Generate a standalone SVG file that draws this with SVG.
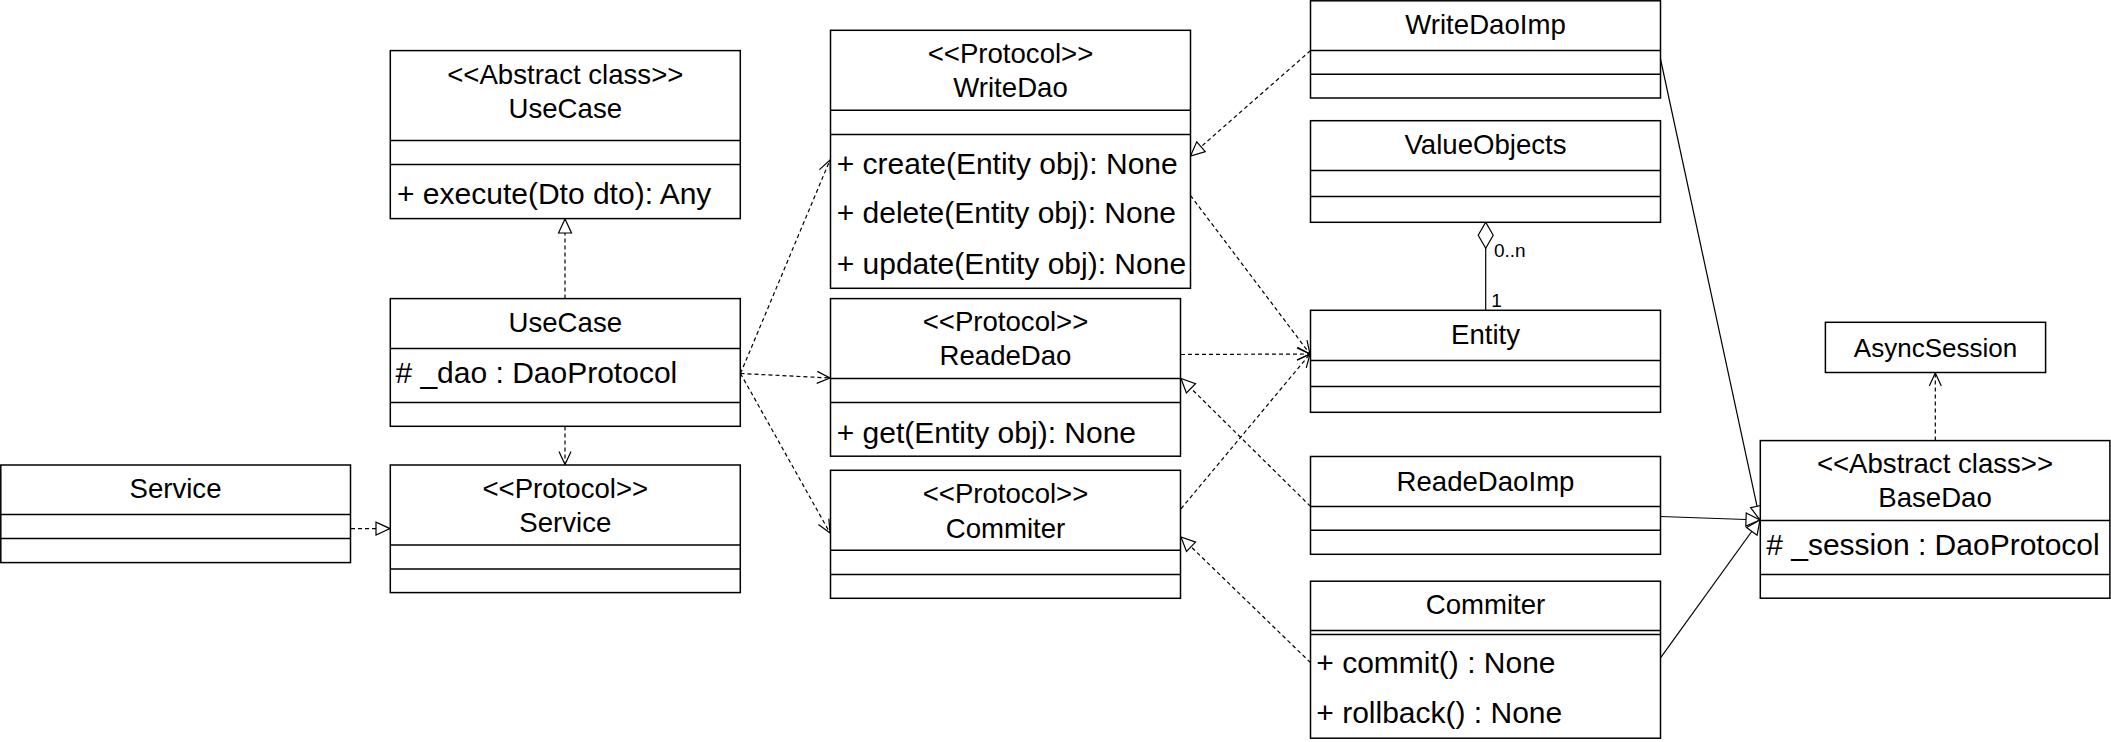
<svg xmlns="http://www.w3.org/2000/svg" width="2111" height="742" viewBox="0 0 2111 742">
<style>
.bg{fill:#fff}
.box{fill:#fff;stroke:#000;stroke-width:1.5}
.div{stroke:#000;stroke-width:1.5}
.t{font-family:"Liberation Sans",Arial,Helvetica,sans-serif;font-size:27.6px;text-anchor:middle;fill:#000}
.m{font-family:"Liberation Sans",Arial,Helvetica,sans-serif;font-size:30px;text-anchor:start;fill:#000}
.lbl{font-family:"Liberation Sans",Arial,Helvetica,sans-serif;font-size:19px;fill:#000}
.dash{fill:none;stroke:#000;stroke-width:1.2;stroke-dasharray:4 3}
.solid{fill:none;stroke:#000;stroke-width:1.2}
</style>
<defs>
<marker id="open" markerUnits="userSpaceOnUse" markerWidth="16" markerHeight="14" refX="13" refY="6" orient="auto" overflow="visible">
<path d="M0,0 L13,6 L0,12" fill="none" stroke="#000" stroke-width="1.2" stroke-dasharray="none"/>
</marker>
<marker id="tri" markerUnits="userSpaceOnUse" markerWidth="16" markerHeight="16" refX="14" refY="6.5" orient="auto" overflow="visible">
<path d="M0,0 L14,6.5 L0,13 Z" fill="#fff" stroke="#000" stroke-width="1.2" stroke-dasharray="none"/>
</marker>
<marker id="dia" markerUnits="userSpaceOnUse" markerWidth="28" markerHeight="16" refX="26" refY="7.5" orient="auto" overflow="visible">
<path d="M0,7.5 L13,0 L26,7.5 L13,15 Z" fill="#fff" stroke="#000" stroke-width="1.2" stroke-dasharray="none"/>
</marker>
</defs>
<rect class="bg" x="0" y="0" width="2111" height="742"/>

<g id="connectors">
<line class="dash" x1="565" y1="298.5" x2="565" y2="219" marker-end="url(#tri)"/>
<line class="dash" x1="351" y1="528.6" x2="390" y2="528.6" marker-end="url(#tri)"/>
<line class="dash" x1="1310.5" y1="50.6" x2="1190.5" y2="156" marker-end="url(#tri)"/>
<line class="dash" x1="1310.5" y1="506.4" x2="1181" y2="378.5" marker-end="url(#tri)"/>
<line class="dash" x1="1310.5" y1="662.6" x2="1181" y2="537" marker-end="url(#tri)"/>
<line class="dash" x1="565" y1="426.5" x2="565" y2="464.5" marker-end="url(#open)"/>
<line class="dash" x1="740.5" y1="373.5" x2="830" y2="160" marker-end="url(#open)"/>
<line class="dash" x1="740.5" y1="373.5" x2="830" y2="378" marker-end="url(#open)"/>
<line class="dash" x1="740.5" y1="373.5" x2="830" y2="533" marker-end="url(#open)"/>
<line class="dash" x1="1190.5" y1="195.5" x2="1310" y2="354" marker-end="url(#open)"/>
<line class="dash" x1="1181" y1="354.5" x2="1310" y2="354" marker-end="url(#open)"/>
<line class="dash" x1="1181" y1="508.8" x2="1310" y2="354" marker-end="url(#open)"/>
<line class="dash" x1="1935.3" y1="440.6" x2="1935.3" y2="373" marker-end="url(#open)"/>
<line class="solid" x1="1660.5" y1="59" x2="1760" y2="520" marker-end="url(#tri)"/>
<line class="solid" x1="1660.5" y1="516.5" x2="1760" y2="520" marker-end="url(#tri)"/>
<line class="solid" x1="1660.5" y1="657.8" x2="1760" y2="520" marker-end="url(#tri)"/>
<line class="solid" x1="1485.7" y1="310.3" x2="1485.7" y2="222.3" marker-end="url(#dia)"/>
<text class="lbl" x="1494" y="256.7">0..n</text>
<text class="lbl" x="1491.3" y="307.3">1</text>
</g>

<g id="abstract-usecase">
<rect class="box" x="390.3" y="50.6" width="350" height="168"/>
<line class="div" x1="390.3" y1="140.6" x2="740.3" y2="140.6"/>
<line class="div" x1="390.3" y1="164.6" x2="740.3" y2="164.6"/>
<text class="t" x="565.3" y="84">&lt;&lt;Abstract class&gt;&gt;</text>
<text class="t" x="565.3" y="118">UseCase</text>
<text class="m" x="397" y="203.5">+ execute(Dto dto): Any</text>
</g>

<g id="usecase">
<rect class="box" x="390.3" y="298.6" width="350" height="127.7"/>
<line class="div" x1="390.3" y1="348.6" x2="740.3" y2="348.6"/>
<line class="div" x1="390.3" y1="402.4" x2="740.3" y2="402.4"/>
<text class="t" x="565.3" y="332">UseCase</text>
<text class="m" x="395.4" y="383"># _dao : DaoProtocol</text>
</g>

<g id="service">
<rect class="box" x="0.8" y="465" width="349.7" height="97.6"/>
<line class="div" x1="0.8" y1="514.4" x2="350.5" y2="514.4"/>
<line class="div" x1="0.8" y1="538.6" x2="350.5" y2="538.6"/>
<text class="t" x="175.5" y="498">Service</text>
</g>

<g id="protocol-service">
<rect class="box" x="390.3" y="465" width="350" height="127.6"/>
<line class="div" x1="390.3" y1="545" x2="740.3" y2="545"/>
<line class="div" x1="390.3" y1="569" x2="740.3" y2="569"/>
<text class="t" x="565.3" y="498">&lt;&lt;Protocol&gt;&gt;</text>
<text class="t" x="565.3" y="532">Service</text>
</g>

<g id="writedao">
<rect class="box" x="830.5" y="30.3" width="360" height="258"/>
<line class="div" x1="830.5" y1="110.3" x2="1190.5" y2="110.3"/>
<line class="div" x1="830.5" y1="134.4" x2="1190.5" y2="134.4"/>
<text class="t" x="1010.5" y="63">&lt;&lt;Protocol&gt;&gt;</text>
<text class="t" x="1010.5" y="97">WriteDao</text>
<text class="m" x="836.7" y="174">+ create(Entity obj): None</text>
<text class="m" x="836.7" y="223.4">+ delete(Entity obj): None</text>
<text class="m" x="836.7" y="273.5">+ update(Entity obj): None</text>
</g>

<g id="readedao">
<rect class="box" x="830.5" y="298.6" width="350" height="157.6"/>
<line class="div" x1="830.5" y1="378.5" x2="1180.5" y2="378.5"/>
<line class="div" x1="830.5" y1="402.5" x2="1180.5" y2="402.5"/>
<text class="t" x="1005.5" y="331">&lt;&lt;Protocol&gt;&gt;</text>
<text class="t" x="1005.5" y="365.4">ReadeDao</text>
<text class="m" x="836.7" y="442.5">+ get(Entity obj): None</text>
</g>

<g id="commiter-protocol">
<rect class="box" x="830.5" y="470.3" width="350" height="128"/>
<line class="div" x1="830.5" y1="550.3" x2="1180.5" y2="550.3"/>
<line class="div" x1="830.5" y1="574.5" x2="1180.5" y2="574.5"/>
<text class="t" x="1005.5" y="503">&lt;&lt;Protocol&gt;&gt;</text>
<text class="t" x="1005.5" y="538">Commiter</text>
</g>

<g id="writedaoimp">
<rect class="box" x="1310.5" y="0.8" width="350" height="97.2"/>
<line class="div" x1="1310.5" y1="50.6" x2="1660.5" y2="50.6"/>
<line class="div" x1="1310.5" y1="74.3" x2="1660.5" y2="74.3"/>
<text class="t" x="1485.5" y="34">WriteDaoImp</text>
</g>

<g id="valueobjects">
<rect class="box" x="1310.5" y="120.7" width="350" height="101.6"/>
<line class="div" x1="1310.5" y1="170.4" x2="1660.5" y2="170.4"/>
<line class="div" x1="1310.5" y1="196.4" x2="1660.5" y2="196.4"/>
<text class="t" x="1485.5" y="153.8">ValueObjects</text>
</g>

<g id="entity">
<rect class="box" x="1310.5" y="310.3" width="350" height="102"/>
<line class="div" x1="1310.5" y1="360.4" x2="1660.5" y2="360.4"/>
<line class="div" x1="1310.5" y1="386.4" x2="1660.5" y2="386.4"/>
<text class="t" x="1485.5" y="344">Entity</text>
</g>

<g id="readedaoimp">
<rect class="box" x="1310.5" y="456.5" width="350" height="97.8"/>
<line class="div" x1="1310.5" y1="506.4" x2="1660.5" y2="506.4"/>
<line class="div" x1="1310.5" y1="530.3" x2="1660.5" y2="530.3"/>
<text class="t" x="1485.5" y="490.8">ReadeDaoImp</text>
</g>

<g id="commiter">
<rect class="box" x="1310.5" y="581.2" width="350" height="157"/>
<line class="div" x1="1310.5" y1="630.4" x2="1660.5" y2="630.4"/>
<line class="div" x1="1310.5" y1="634.6" x2="1660.5" y2="634.6"/>
<text class="t" x="1485.5" y="614.3">Commiter</text>
<text class="m" x="1316.3" y="673">+ commit() : None</text>
<text class="m" x="1316.3" y="723">+ rollback() : None</text>
</g>

<g id="asyncsession">
<rect class="box" x="1825.4" y="322.3" width="220.2" height="50.2"/>
<text class="t" x="1935.5" y="357" style="font-size:26px">AsyncSession</text>
</g>

<g id="basedao">
<rect class="box" x="1760.3" y="440.6" width="349.6" height="157.6"/>
<line class="div" x1="1760.3" y1="520.6" x2="2109.9" y2="520.6"/>
<line class="div" x1="1760.3" y1="574.5" x2="2109.9" y2="574.5"/>
<text class="t" x="1935" y="473">&lt;&lt;Abstract class&gt;&gt;</text>
<text class="t" x="1935" y="507">BaseDao</text>
<text class="m" x="1766.2" y="554.6"># _session : DaoProtocol</text>
</g>
</svg>
